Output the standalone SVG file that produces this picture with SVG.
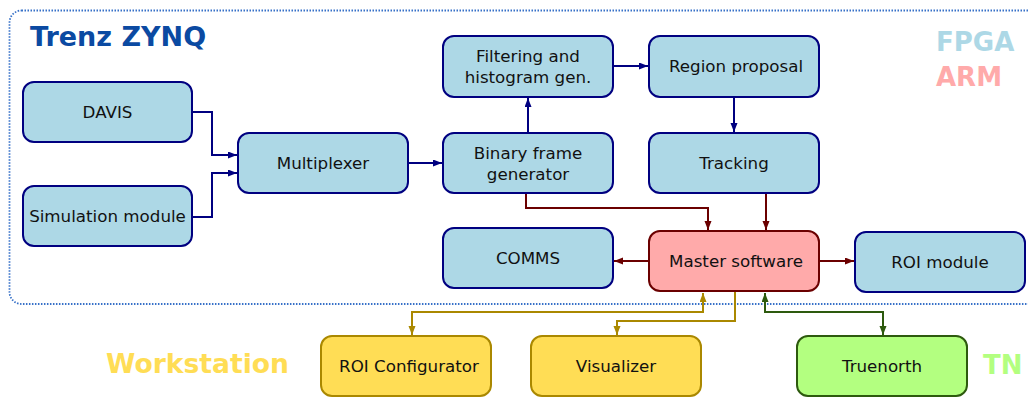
<svg xmlns="http://www.w3.org/2000/svg" width="1028" height="397" viewBox="0 0 1028 397">
<style>
  .fpga rect { fill: #add8e6; stroke: #000080; stroke-width: 2; }
  .arm rect { fill: #ffaaaa; stroke: #6b0000; stroke-width: 2; }
  .ws rect { fill: #ffdd55; stroke: #aa8800; stroke-width: 2; }
  .tn rect { fill: #b3ff80; stroke: #2d5a0e; stroke-width: 2; }
  text.t { font-family: "DejaVu Sans", sans-serif; font-size: 16.7px; fill: #111; text-anchor: middle; }
  text.big { font-family: "DejaVu Sans", sans-serif; font-size: 26px; font-weight: bold; }
  .cb { fill: none; stroke: #000080; stroke-width: 2; marker-end: url(#ab); }
  .cr { fill: none; stroke: #6b0000; stroke-width: 2; marker-end: url(#ar); }
  .cy { fill: none; stroke: #aa8800; stroke-width: 2; marker-end: url(#ay); }
  .cg { fill: none; stroke: #2d5a0e; stroke-width: 2; marker-end: url(#ag); }
</style>
<defs>
  <marker id="ab" markerUnits="userSpaceOnUse" markerWidth="9" markerHeight="8" refX="9" refY="3.5" orient="auto-start-reverse"><path d="M0,0 L9,3.5 L0,7 z" fill="#000080"/></marker>
  <marker id="ar" markerUnits="userSpaceOnUse" markerWidth="9" markerHeight="8" refX="9" refY="3.5" orient="auto-start-reverse"><path d="M0,0 L9,3.5 L0,7 z" fill="#6b0000"/></marker>
  <marker id="ay" markerUnits="userSpaceOnUse" markerWidth="9" markerHeight="8" refX="9" refY="3.5" orient="auto-start-reverse"><path d="M0,0 L9,3.5 L0,7 z" fill="#aa8800"/></marker>
  <marker id="ag" markerUnits="userSpaceOnUse" markerWidth="9" markerHeight="8" refX="9" refY="3.5" orient="auto-start-reverse"><path d="M0,0 L9,3.5 L0,7 z" fill="#2d5a0e"/></marker>
</defs>

<rect id="container" x="9.5" y="10.5" width="1030" height="293.5" rx="12" fill="none" stroke="#3771c8" stroke-width="1.8" stroke-dasharray="1.5 1.5"/>

<text class="big" x="30" y="46" fill="#0b4aa2" style="font-size:27px">Trenz ZYNQ</text>
<text class="big" x="936" y="51" fill="#add8e6">FPGA</text>
<text class="big" x="936" y="86" fill="#ffaaaa">ARM</text>
<text class="big" x="106" y="373" fill="#ffdd55" style="font-size:26.6px">Workstation</text>
<text class="big" x="983" y="374" fill="#b3ff80">TN</text>

<g id="connectors">
  <path class="cb" d="M192,112 H212 V155 H237"/>
  <path class="cb" d="M192,217 H212 V173 H237"/>
  <path class="cb" d="M408,163 H442"/>
  <path class="cb" d="M528,133 V98"/>
  <path class="cb" d="M613,66 H648"/>
  <path class="cb" d="M734,97 V132"/>
  <path class="cr" d="M526,194 V208 H708 V230"/>
  <path class="cr" d="M766,194 V230"/>
  <path class="cr" d="M649,261 H614"/>
  <path class="cr" d="M819,261 H854"/>
  <path class="cy" d="M703,293 V312 H412 V335" marker-start="url(#ay)"/>
  <path class="cy" d="M735,292 V321 H617 V335"/>
  <path class="cg" d="M765,293 V312 H883 V335" marker-start="url(#ag)"/>
</g>

<g id="davis" class="fpga"><rect x="23" y="82" width="169" height="60" rx="11"/><text class="t" x="107.5" y="118">DAVIS</text></g>
<g id="simulation" class="fpga"><rect x="23" y="186" width="169" height="60" rx="11"/><text class="t" x="107.5" y="222">Simulation module</text></g>
<g id="multiplexer" class="fpga"><rect x="238" y="133" width="170" height="60" rx="11"/><text class="t" x="323" y="169">Multiplexer</text></g>
<g id="filtering" class="fpga"><rect x="443" y="36" width="170" height="61" rx="11"/><text class="t" x="528" y="62">Filtering and</text><text class="t" x="528" y="83">histogram gen.</text></g>
<g id="binary" class="fpga"><rect x="443" y="133" width="170" height="60" rx="11"/><text class="t" x="528" y="159">Binary frame</text><text class="t" x="528" y="180">generator</text></g>
<g id="region" class="fpga"><rect x="649" y="36" width="170" height="61" rx="11"/><text class="t" x="736" y="72">Region proposal</text></g>
<g id="tracking" class="fpga"><rect x="649" y="133" width="170" height="60" rx="11"/><text class="t" x="734" y="169">Tracking</text></g>
<g id="comms" class="fpga"><rect x="443" y="228" width="170" height="60" rx="11"/><text class="t" x="528" y="264">COMMS</text></g>
<g id="master" class="arm"><rect x="649" y="231" width="170" height="60" rx="11"/><text class="t" x="736" y="267">Master software</text></g>
<g id="roimodule" class="fpga"><rect x="855" y="232" width="170" height="60" rx="11"/><text class="t" x="940" y="268">ROI module</text></g>
<g id="roiconfig" class="ws"><rect x="321" y="336" width="170" height="60" rx="11"/><text class="t" x="409" y="372">ROI Configurator</text></g>
<g id="visualizer" class="ws"><rect x="531" y="336" width="170" height="60" rx="11"/><text class="t" x="616" y="372">Visualizer</text></g>
<g id="truenorth" class="tn"><rect x="797" y="336" width="170" height="60" rx="11"/><text class="t" x="882" y="372">Truenorth</text></g>
</svg>
